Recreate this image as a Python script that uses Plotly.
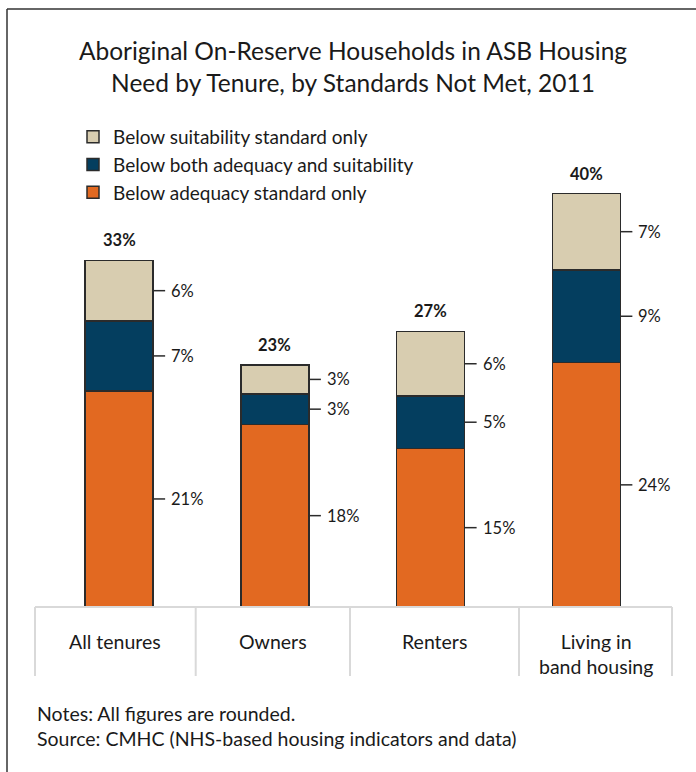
import plotly.graph_objects as go

# Data (percent of households)
categories = ["All tenures", "Owners", "Renters", "Living in<br>band housing"]
adequacy_only = [20.7, 17.5, 15.2, 23.4]
both_standards = [6.7, 2.9, 5.0, 8.9]
suitability_only = [5.8, 2.8, 6.2, 7.3]

adequacy_labels = ["21%", "18%", "15%", "24%"]
both_labels = ["7%", "3%", "5%", "9%"]
suitability_labels = ["6%", "3%", "6%", "7%"]
total_labels = ["33%", "23%", "27%", "40%"]

series_names = [
    "Below adequacy standard only",
    "Below both adequacy and suitability",
    "Below suitability standard only",
]

TAN = "#d8cdb0"
NAVY = "#043e5f"
ORANGE = "#e26921"
OUTLINE = "#2b2b2b"
TEXT = "#1a1a1a"
BOX_LINE = "#d9d9d9"
FONT = "Lato, 'Open Sans', sans-serif"

W, H = 696, 772
M_L, M_R, M_T, M_B = 35, 24, 100, 165
PLOT_W = W - M_L - M_R
PLOT_H = H - M_T - M_B
PX_PER_PCT = 10.44
BAR_W = 0.437
X_RANGE = [-0.54, 3.55]


def px_x(px):
    return (px - M_L) / PLOT_W


def px_y(py):
    return (H - M_B - py) / PLOT_H


x = list(range(len(categories)))

fig = go.Figure()
for rank, (vals, name, color) in enumerate([
    (adequacy_only, series_names[0], ORANGE),
    (both_standards, series_names[1], NAVY),
    (suitability_only, series_names[2], TAN),
]):
    fig.add_trace(
        go.Bar(
            x=x,
            y=vals,
            name=name,
            legendgroup=name,
            legendrank=3 - rank,
            width=BAR_W,
            marker=dict(color=color, line=dict(color=OUTLINE, width=1.5)),
            hoverinfo="skip",
        )
    )

annotations = []
shapes = []

# segment labels with a short leader tick
tick_len = 12 / (PLOT_W / (X_RANGE[1] - X_RANGE[0]))
for i in x:
    base = 0
    for vals, labels in [
        (adequacy_only, adequacy_labels),
        (both_standards, both_labels),
        (suitability_only, suitability_labels),
    ]:
        mid = base + vals[i] / 2
        x0 = i + BAR_W / 2
        shapes.append(dict(type="line", xref="x", yref="y", x0=x0, x1=x0 + tick_len,
                           y0=mid, y1=mid, line=dict(color=OUTLINE, width=1.5)))
        annotations.append(dict(x=x0 + tick_len, y=mid, xref="x", yref="y", text=labels[i],
                                showarrow=False, xanchor="left", yanchor="middle", xshift=4,
                                font=dict(size=16.5, color=TEXT)))
        base += vals[i]
    annotations.append(dict(x=i, y=base, xref="x", yref="y", text=f"<b>{total_labels[i]}</b>",
                            showarrow=False, xanchor="center", yanchor="bottom", yshift=8,
                            font=dict(size=16.5, color=TEXT)))

# category boxes under the bars
box_edges = [35, 195.7, 350, 519, 672]
shapes.append(dict(type="line", xref="paper", yref="paper", x0=px_x(box_edges[0]),
                   x1=px_x(box_edges[-1]), y0=0, y1=0, line=dict(color=BOX_LINE, width=2)))
for e in box_edges:
    shapes.append(dict(type="line", xref="paper", yref="paper", x0=px_x(e), x1=px_x(e),
                       y0=0, y1=px_y(676), line=dict(color=BOX_LINE, width=2)))
for i, cat in enumerate(categories):
    cx = (box_edges[i] + box_edges[i + 1]) / 2
    annotations.append(dict(x=px_x(cx), y=px_y(628), xref="paper", yref="paper", text=cat,
                            showarrow=False, xanchor="center", yanchor="top",
                            font=dict(size=19.5, color=TEXT)))

# notes
annotations.append(dict(x=0, y=px_y(713), xref="paper", yref="paper",
                        text="Notes: All figures are rounded.", showarrow=False,
                        xanchor="left", yanchor="middle", font=dict(size=19.5, color=TEXT)))
annotations.append(dict(x=0, y=px_y(738), xref="paper", yref="paper",
                        text="Source: CMHC (NHS-based housing indicators and data)", showarrow=False,
                        xanchor="left", yanchor="middle", font=dict(size=19.5, color=TEXT)))

# frame: top and left edges only
shapes.append(dict(type="line", xref="paper", yref="paper", x0=px_x(7), x1=px_x(W),
                   y0=px_y(9), y1=px_y(9), line=dict(color="#333333", width=1.5)))
shapes.append(dict(type="line", xref="paper", yref="paper", x0=px_x(7), x1=px_x(7),
                   y0=px_y(9), y1=px_y(H), line=dict(color="#333333", width=1.5)))

fig.update_layout(
    width=W,
    height=H,
    margin=dict(l=M_L, r=M_R, t=M_T, b=M_B, autoexpand=False),
    paper_bgcolor="white",
    plot_bgcolor="white",
    barmode="stack",
    font=dict(family=FONT, color=TEXT),
    title=dict(
        text="Aboriginal On-Reserve Households in ASB Housing<br>Need by Tenure, by Standards Not Met, 2011",
        x=353 / W,
        xref="container",
        xanchor="center",
        y=1 - 60 / H,
        yref="container",
        yanchor="middle",
        font=dict(size=24.5, color=TEXT, family=FONT),
    ),
    legend=dict(
        x=px_x(73),
        y=px_y(118),
        xanchor="left",
        yanchor="top",
        traceorder="grouped",
        tracegroupgap=0,
        font=dict(size=19, color=TEXT),
        bgcolor="rgba(0,0,0,0)",
    ),
    xaxis=dict(range=X_RANGE, showgrid=False, zeroline=False, showticklabels=False,
               showline=False, fixedrange=True),
    yaxis=dict(range=[0, PLOT_H / PX_PER_PCT], showgrid=False, zeroline=False,
               showticklabels=False, showline=False, fixedrange=True),
    annotations=annotations,
    shapes=shapes,
)

fig.write_html("out.html", config={"displayModeBar": False},
               post_script="document.body.style.margin='0';")
